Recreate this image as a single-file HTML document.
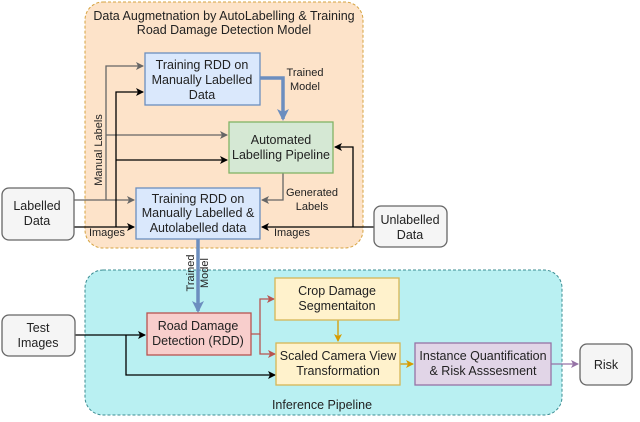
<!DOCTYPE html>
<html><head><meta charset="utf-8"><style>
html,body{margin:0;padding:0;background:#fff;}
svg{display:block;font-family:"Liberation Sans",sans-serif;}
</style></head><body>
<svg width="640" height="422" viewBox="0 0 640 422" xmlns="http://www.w3.org/2000/svg">
<defs>
<marker id="ab" markerWidth="8" markerHeight="8" refX="7" refY="4" orient="auto" markerUnits="userSpaceOnUse"><path d="M0,0 L8,4 L0,8 L2,4 z" fill="#000"/></marker>
<marker id="ag" markerWidth="8" markerHeight="8" refX="7" refY="4" orient="auto" markerUnits="userSpaceOnUse"><path d="M0,0 L8,4 L0,8 L2,4 z" fill="#666"/></marker>
<marker id="ar" markerWidth="8" markerHeight="8" refX="7" refY="4" orient="auto" markerUnits="userSpaceOnUse"><path d="M0,0 L8,4 L0,8 L2,4 z" fill="#b85450"/></marker>
<marker id="ao" markerWidth="8" markerHeight="8" refX="7" refY="4" orient="auto" markerUnits="userSpaceOnUse"><path d="M0,0 L8,4 L0,8 L2,4 z" fill="#d79b00"/></marker>
<marker id="ap" markerWidth="8" markerHeight="8" refX="7" refY="4" orient="auto" markerUnits="userSpaceOnUse"><path d="M0,0 L8,4 L0,8 L2,4 z" fill="#9673a6"/></marker>
<marker id="abl" markerWidth="12" markerHeight="12" refX="10" refY="6" orient="auto" markerUnits="userSpaceOnUse"><path d="M0,0 L12,6 L0,12 L3,6 z" fill="#6c8ebf"/></marker>
</defs>
<rect x="85" y="2" width="278" height="246" rx="18" fill="#fde3c9" stroke="#d6a340" stroke-dasharray="3,2"/>
<rect x="85" y="270" width="477" height="145" rx="18" fill="#b9f0f2" stroke="#3a8c92" stroke-dasharray="3,2"/>
<g font-size="12.5" fill="#222" text-anchor="middle">
<text x="224" y="20">Data Augmetnation by AutoLabelling &amp; Training</text>
<text x="224" y="34">Road Damage Detection Model</text>
<text x="322" y="409">Inference Pipeline</text>
</g>
<g fill="none" stroke-width="1.3">
<path d="M74,200 H134" stroke="#666" marker-end="url(#ag)"/>
<path d="M106,200 V66 H143" stroke="#666" marker-end="url(#ag)"/>
<path d="M106,135 H227" stroke="#666" marker-end="url(#ag)"/>
<path d="M74,227 H134" stroke="#000" marker-end="url(#ab)"/>
<path d="M116,227 V92 H143" stroke="#000" marker-end="url(#ab)"/>
<path d="M116,160 H227" stroke="#000" marker-end="url(#ab)"/>
<path d="M283,173 V200 H262" stroke="#666" marker-end="url(#ag)"/>
<path d="M374,227 H262" stroke="#000" marker-end="url(#ab)"/>
<path d="M353,227 V147 H335" stroke="#000" marker-end="url(#ab)"/>
<path d="M260,78 H283 V119" stroke="#6c8ebf" stroke-width="3.5" marker-end="url(#abl)"/>
<path d="M198,239 V311" stroke="#6c8ebf" stroke-width="3.5" marker-end="url(#abl)"/>
<path d="M75,335 H145" stroke="#000" marker-end="url(#ab)"/>
<path d="M126,335 V375 H275" stroke="#000" marker-end="url(#ab)"/>
<path d="M251,334 H260 V299 H274" stroke="#b85450" marker-end="url(#ar)"/>
<path d="M260,334 V354 H275" stroke="#b85450" marker-end="url(#ar)"/>
<path d="M338,320 V341" stroke="#d79b00" marker-end="url(#ao)"/>
<path d="M400,364 H413" stroke="#d79b00" marker-end="url(#ao)"/>
<path d="M551,364 H578" stroke="#9673a6" marker-end="url(#ap)"/>
</g>
<g stroke-width="1.3">
<rect x="145" y="53" width="115" height="52" fill="#dae8fc" stroke="#6c8ebf"/>
<rect x="229" y="122" width="104" height="51" fill="#d5e8d4" stroke="#82b366"/>
<rect x="136" y="188" width="124" height="51" fill="#dae8fc" stroke="#6c8ebf"/>
<rect x="2" y="188" width="72" height="52" rx="7" fill="#f5f5f5" stroke="#666"/>
<rect x="374" y="206" width="73" height="41" rx="7" fill="#f5f5f5" stroke="#666"/>
<rect x="2" y="315" width="73" height="41" rx="7" fill="#f5f5f5" stroke="#666"/>
<rect x="147" y="313" width="104" height="42" fill="#f8cecc" stroke="#b85450"/>
<rect x="275" y="278" width="124" height="42" fill="#fff2cc" stroke="#d6b656"/>
<rect x="276" y="343" width="124" height="42" fill="#fff2cc" stroke="#d6b656"/>
<rect x="415" y="343" width="136" height="42" fill="#e1d5e7" stroke="#9673a6"/>
<rect x="580" y="344" width="52" height="41" rx="7" fill="#f5f5f5" stroke="#666"/>
</g>
<g font-size="12.5" fill="#222" text-anchor="middle">
<text x="202" y="69">Training RDD on</text><text x="202" y="84">Manually Labelled</text><text x="202" y="99">Data</text>
<text x="281" y="144">Automated</text><text x="281" y="159">Labelling Pipeline</text>
<text x="198" y="203">Training RDD on</text><text x="198" y="217">Manually Labelled &amp;</text><text x="198" y="232">Autolabelled data</text>
<text x="37" y="210">Labelled</text><text x="37" y="225">Data</text>
<text x="410" y="224">Unlabelled</text><text x="410" y="239">Data</text>
<text x="38" y="332">Test</text><text x="38" y="347">Images</text>
<text x="198" y="330">Road Damage</text><text x="198" y="345">Detection (RDD)</text>
<text x="337" y="295">Crop Damage</text><text x="337" y="310">Segmentaiton</text>
<text x="338" y="360">Scaled Camera View</text><text x="338" y="375">Transformation</text>
<text x="483" y="360">Instance Quantification</text><text x="483" y="375">&amp; Risk Asssesment</text>
<text x="606" y="369">Risk</text>
</g>
<g font-size="11" fill="#222" text-anchor="middle">
<text x="305" y="76">Trained</text><text x="305" y="90">Model</text>
<text x="312" y="196">Generated</text><text x="312" y="210">Labels</text>
<text x="107" y="236">Images</text>
<text x="292" y="236">Images</text>
<text transform="translate(102,150) rotate(-90)">Manual Labels</text>
<text transform="translate(194,273) rotate(-90)">Trained</text>
<text transform="translate(208,273) rotate(-90)">Model</text>
</g>
</svg>
</body></html>
